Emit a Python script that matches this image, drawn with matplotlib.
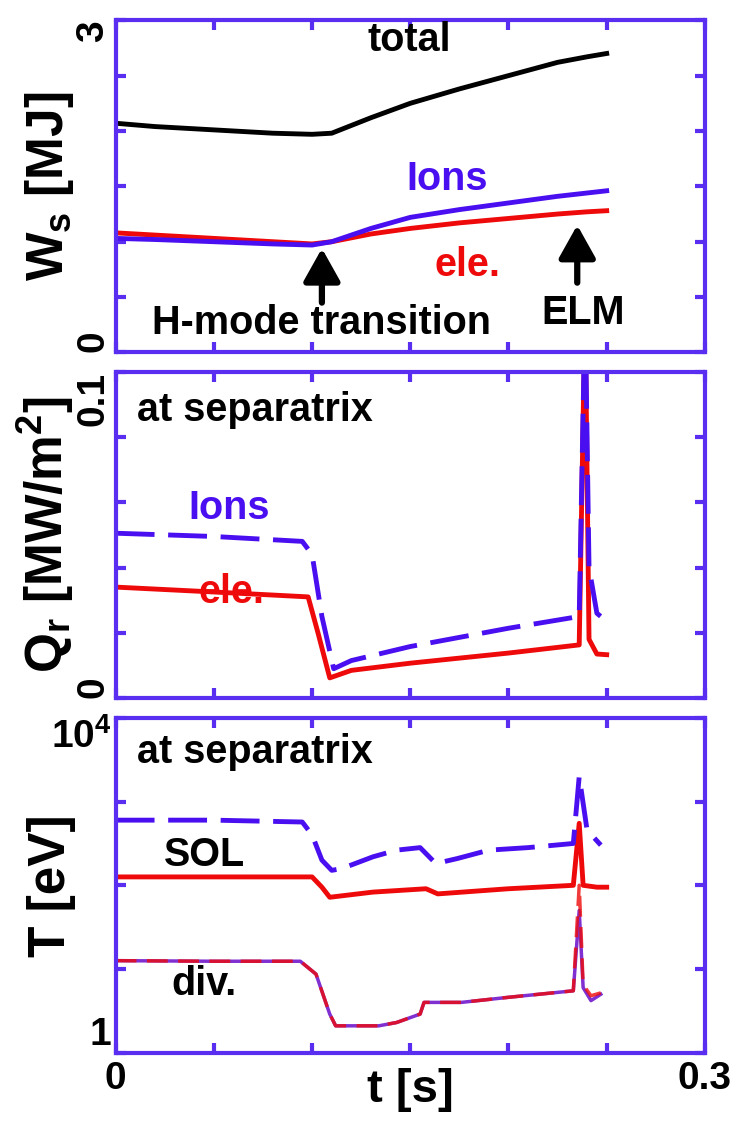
import numpy as np
import matplotlib
matplotlib.use("Agg")
import matplotlib.pyplot as plt

plt.rcParams['font.family'] = ['Liberation Sans', 'DejaVu Sans']
plt.rcParams['font.weight'] = 'bold'
plt.rcParams['axes.labelweight'] = 'bold'
plt.rcParams['mathtext.fontset'] = 'custom'
plt.rcParams['mathtext.rm'] = 'Liberation Sans:bold'
plt.rcParams['mathtext.it'] = 'Liberation Sans:bold'
plt.rcParams['mathtext.bf'] = 'Liberation Sans:bold'

BLUE = '#4a0ff0'
RED = '#ee0a0a'
FRAME = '#5a2ef0'

# ---- stored energy [MJ]
t_w = [0, 0.02, 0.05, 0.08, 0.1, 0.11, 0.13, 0.15, 0.175, 0.2, 0.225, 0.24, 0.25]
W_total = [2.07, 2.04, 2.01, 1.98, 1.97, 1.98, 2.12, 2.25, 2.38, 2.50, 2.62, 2.67, 2.70]
W_ion = [1.03, 1.02, 1.00, 0.98, 0.97, 1.00, 1.12, 1.22, 1.29, 1.35, 1.41, 1.44, 1.46]
W_ele = [1.08, 1.06, 1.03, 1.00, 0.98, 1.00, 1.07, 1.12, 1.17, 1.21, 1.25, 1.27, 1.28]

# ---- heat flux at separatrix [MW/m2]
t_q_ion = [0, 0.05, 0.095, 0.1, 0.105, 0.111, 0.12, 0.15, 0.2, 0.236, 0.239, 0.241, 0.245, 0.25]
Q_ion = [0.0505, 0.0495, 0.048, 0.044, 0.025, 0.009, 0.0115, 0.0158, 0.0214, 0.025, 0.12, 0.04, 0.026, 0.0235]
t_q_ele = [0, 0.05, 0.098, 0.103, 0.109, 0.12, 0.15, 0.2, 0.236, 0.239, 0.241, 0.245, 0.25]
Q_ele = [0.034, 0.0325, 0.031, 0.02, 0.0062, 0.0085, 0.0107, 0.0138, 0.0163, 0.12, 0.018, 0.0135, 0.0133]

# ---- temperatures [eV]
t_sol_ion = [0, 0.05, 0.095, 0.1, 0.105, 0.11, 0.115, 0.131, 0.143, 0.155, 0.163, 0.174, 0.19, 0.21, 0.233, 0.236, 0.24, 0.247]
T_sol_ion = [600, 600, 570, 400, 200, 151, 158, 219, 263, 282, 182, 209, 263, 282, 316, 1995, 457, 302]
t_sol_ele = [0, 0.05, 0.1, 0.105, 0.109, 0.131, 0.158, 0.164, 0.2, 0.233, 0.236, 0.238, 0.245, 0.25]
T_sol_ele = [126, 126, 126, 95, 72, 83, 91, 79, 91, 100, 550, 100, 95, 95]
t_div_ion = [0, 0.05, 0.094, 0.102, 0.109, 0.112, 0.134, 0.143, 0.155, 0.157, 0.176, 0.2, 0.233, 0.236, 0.238, 0.242, 0.247]
T_div_ion = [12.6, 12.4, 12.4, 8.7, 2.9, 2.1, 2.1, 2.3, 2.9, 4.0, 4.0, 4.6, 5.5, 50, 6.0, 4.2, 5.0]
t_div_ele = [0, 0.05, 0.094, 0.102, 0.109, 0.112, 0.134, 0.143, 0.155, 0.157, 0.176, 0.2, 0.233, 0.236, 0.238, 0.242, 0.247]
T_div_ele = [12.6, 12.4, 12.4, 8.7, 2.9, 2.1, 2.1, 2.3, 2.9, 4.0, 4.0, 4.6, 5.5, 100, 6.5, 4.8, 5.2]

fig = plt.figure(figsize=(7.32, 11.26), dpi=100)
L, W = 0.158, 0.805
ax1 = fig.add_axes([L, 0.687, W, 0.295])
ax2 = fig.add_axes([L, 0.380, W, 0.290])
ax3 = fig.add_axes([L, 0.065, W, 0.2975])

xticks = np.arange(0, 0.3001, 0.05)
for ax in (ax1, ax2, ax3):
    ax.set_xlim(0, 0.3)
    ax.set_xticks(xticks)
    ax.set_xticklabels([''] * len(xticks))
    for s in ax.spines.values():
        s.set_color(FRAME)
        s.set_linewidth(3)
    ax.tick_params(which='both', direction='in', top=True, right=True,
                   color=FRAME, width=3, length=7, labelsize=28, pad=3)
    ax.tick_params(which='minor', length=0)

def end_labels(ax, ticks, labels, rotate):
    ax.set_yticks(ticks)
    ax.set_yticklabels(labels)
    tl = ax.get_yticklabels()
    if rotate:
        for t in tl:
            t.set_rotation(90)
    tl[0].set_va('bottom')
    tl[-1].set_va('top')

# panel 1
lw = 3.5
dash = (8, 2.8)
ax1.plot(t_w, W_total, color='k', lw=lw)
ax1.plot(t_w, W_ele, color=RED, lw=lw)
ax1.plot(t_w, W_ion, color=BLUE, lw=lw)
ax1.set_ylim(0, 3)
yt = np.arange(0, 3.01, 0.5)
end_labels(ax1, yt, ['0'] + [''] * 5 + ['3'], True)
ax1.set_ylabel('W$_\\mathregular{s}$ [MJ]', fontsize=37)
fs = 28.5
ax1.text(0.1497, 2.82, 'total', fontsize=fs, ha='center', va='center', color='k')
ax1.text(0.1686, 1.57, 'Ions', fontsize=fs, ha='center', va='center', color=BLUE)
ax1.text(0.179, 0.79, 'ele.', fontsize=fs, ha='center', va='center', color=RED)
ax1.text(0.105, 0.27, 'H-mode transition', fontsize=fs, ha='center', va='center')
ax1.text(0.238, 0.36, 'ELM', fontsize=fs, ha='center', va='center')
arrow = dict(arrowstyle='-|>,head_length=0.5,head_width=0.28', lw=4.5, color='k',
             mutation_scale=40, shrinkA=0, shrinkB=0)
ax1.annotate('', xy=(0.105, 0.94), xytext=(0.105, 0.45), arrowprops=arrow)
ax1.annotate('', xy=(0.235, 1.15), xytext=(0.235, 0.63), arrowprops=arrow)

# panel 2
ax2.plot(t_q_ele, Q_ele, color=RED, lw=lw)
ax2.plot(t_q_ion, Q_ion, color=BLUE, lw=lw, dashes=dash)
ax2.set_ylim(0, 0.1)
yt = np.arange(0, 0.1001, 0.02)
end_labels(ax2, yt, ['0'] + [''] * 4 + ['0.1'], True)
ax2.set_ylabel('Q$_\\mathregular{r}$ [MW/m$^\\mathregular{2}$]', fontsize=37)
ax2.text(0.071, 0.0883, 'at separatrix', fontsize=fs, ha='center', va='center')
ax2.text(0.058, 0.0583, 'Ions', fontsize=fs, ha='center', va='center', color=BLUE)
ax2.text(0.059, 0.0325, 'ele.', fontsize=fs, ha='center', va='center', color=RED)

# panel 3
ax3.set_yscale('log')
ax3.plot(t_sol_ele, T_sol_ele, color=RED, lw=lw)
ax3.plot(t_sol_ion, T_sol_ion, color=BLUE, lw=lw, dashes=dash)
ax3.plot(t_div_ion, T_div_ion, color='#8030d0', lw=2.5)
ax3.plot(t_div_ele, T_div_ele, color=RED, lw=2.5, dashes=(6, 3), alpha=0.8)
ax3.set_ylim(1, 1e4)
yt = [1, 10, 100, 1000, 10000]
end_labels(ax3, yt, ['1', '', '', '', '10$^\\mathregular{4}$'], False)
ax3.set_ylabel('T [eV]', fontsize=37)
ax3.set_xticklabels(['0', '', '', '', '', '', '0.3'])
ax3.tick_params(axis='x', pad=6)
ax3.set_xlabel('t [s]', fontsize=34)
ax3.xaxis.set_label_coords(0.5, -0.045)
ax3.text(0.071, 3890, 'at separatrix', fontsize=fs, ha='center', va='center')
ax3.text(0.045, 229, 'SOL', fontsize=fs, ha='center', va='center')
ax3.text(0.045, 6.7, 'div.', fontsize=fs, ha='center', va='center')

for ax in (ax1, ax2, ax3):
    ax.yaxis.set_label_coords(-0.068, 0.5)

fig.savefig('out.png', dpi=100)
